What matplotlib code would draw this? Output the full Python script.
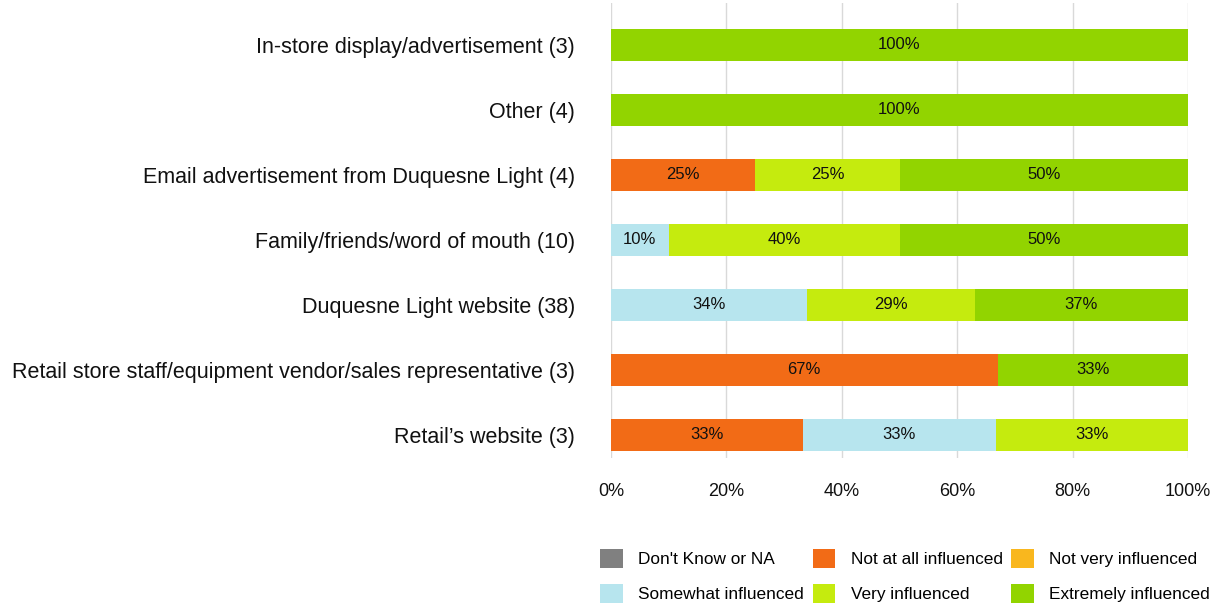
import numpy as np
import matplotlib.pyplot as plt
from matplotlib.patches import Patch

plt.rcParams['font.family'] = ['Liberation Sans', 'DejaVu Sans']

# data ========================================================================
categories = ['In-store display/advertisement (3)',
              'Other (4)',
              'Email advertisement from Duquesne Light (4)',
              'Family/friends/word of mouth (10)',
              'Duquesne Light website (38)',
              'Retail store staff/equipment vendor/sales representative (3)',
              'Retail\u2019s website (3)']

series_names = ["Don't Know or NA", 'Not at all influenced', 'Not very influenced',
                'Somewhat influenced', 'Very influenced', 'Extremely influenced']

dont_know = [0, 0, 0, 0, 0, 0, 0]
not_at_all = [0, 0, 25, 0, 0, 67, 33.33]
not_very = [0, 0, 0, 0, 0, 0, 0]
somewhat = [0, 0, 0, 10, 34, 0, 33.33]
very = [0, 0, 25, 40, 29, 0, 33.34]
extremely = [100, 100, 50, 50, 37, 33, 0]

colors = ['#808080', '#F26B16', '#F9B71E', '#B7E5EE', '#C5EB0E', '#92D400']

# plot ========================================================================
fig = plt.figure(figsize=(12.18, 6.05), dpi=100)
ax = fig.add_axes([611/1218, 1 - 458/605, 577/1218, 455/605])

y = np.arange(len(categories))
left = np.zeros(len(categories))
for name, vals, c in zip(series_names,
                         [dont_know, not_at_all, not_very, somewhat, very, extremely],
                         colors):
    vals = np.array(vals, dtype=float)
    ax.barh(y, vals, left=left, height=0.5, color=c, zorder=2)
    for yi, l, v in zip(y, left, vals):
        if v > 0:
            ax.text(l + v / 2, yi, '%d%%' % round(v), ha='center', va='center',
                    fontsize=12, color='#111111', zorder=3)
    left += vals

ax.set_xlim(0, 100)
ax.set_ylim(6.354, -0.646)
ax.set_yticks(y)
ax.set_yticklabels(categories, fontsize=15.5, color='#111111')
ax.set_xticks([0, 20, 40, 60, 80, 100])
ax.set_xticklabels(['0%', '20%', '40%', '60%', '80%', '100%'], fontsize=13, color='#111111')
ax.tick_params(length=0)
ax.tick_params(axis='x', pad=18)
ax.grid(axis='x', color='#d9d9d9', linewidth=1, zorder=0)
for s in ax.spines.values():
    s.set_visible(False)
# labels end ~36 px left of the axes
for t in ax.get_yticklabels():
    t.set_x(-36 / 577)
ax.tick_params(axis='y', pad=0)

# legend, filled column by column
order = [0, 3, 1, 4, 2, 5]
handles = [Patch(facecolor=colors[i], edgecolor='none') for i in order]
labels = [series_names[i] for i in order]
fig.legend(handles, labels, ncol=3, loc='lower right', bbox_to_anchor=(1.006, -0.022),
           frameon=False, fontsize=12.4, handlelength=1.3, handleheight=1.3,
           columnspacing=0.5, handletextpad=0.9, labelspacing=0.95)

plt.savefig('out.png', dpi=100)
